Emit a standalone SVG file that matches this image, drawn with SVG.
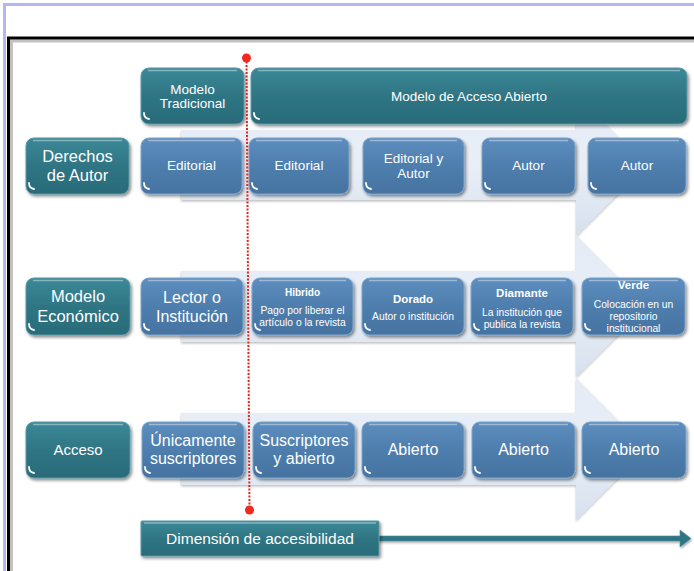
<svg xmlns="http://www.w3.org/2000/svg" xmlns:xlink="http://www.w3.org/1999/xlink" width="694" height="571" viewBox="0 0 694 571">
<defs>
<linearGradient id="gTeal" x1="0" y1="0" x2="0" y2="1">
<stop offset="0" stop-color="#3c8997"/><stop offset="0.5" stop-color="#2f7584"/><stop offset="1" stop-color="#296b79"/>
</linearGradient>
<linearGradient id="gBlue" x1="0" y1="0" x2="0" y2="1">
<stop offset="0" stop-color="#5d8ebf"/><stop offset="0.5" stop-color="#4e7ead"/><stop offset="1" stop-color="#4673a1"/>
</linearGradient>
<linearGradient id="gBand" x1="0" y1="0" x2="0" y2="1">
<stop offset="0" stop-color="#e4ebf5"/><stop offset="0.5" stop-color="#e9eff7"/><stop offset="1" stop-color="#d6e0ed"/>
</linearGradient>
<filter id="sh" x="-10%" y="-10%" width="125%" height="130%">
<feDropShadow dx="1.5" dy="2" stdDeviation="1.4" flood-color="#000" flood-opacity="0.45"/>
</filter>
<filter id="shb" x="-5%" y="-5%" width="110%" height="115%">
<feDropShadow dx="0" dy="1.5" stdDeviation="1" flood-color="#000" flood-opacity="0.25"/>
</filter>
<filter id="sha" filterUnits="userSpaceOnUse" x="370" y="525" width="324" height="30">
<feDropShadow dx="1" dy="1.5" stdDeviation="1" flood-color="#000" flood-opacity="0.35"/>
</filter>
<path id="cm" d="M0,0 q0,5 5,6" fill="none" stroke="#ffffff" stroke-width="1.8" stroke-linecap="round"/>
</defs>
<style>
.teal{fill:url(#gTeal);stroke:#5a9aa7;stroke-width:1;filter:url(#sh)}
.blue{fill:url(#gBlue);stroke:#7ea5cc;stroke-width:1;filter:url(#sh)}
.band{fill:url(#gBand);filter:url(#shb)}
.hl{stroke:#ffffff;stroke-opacity:0.4;stroke-width:1.5;fill:none}
text{font-family:"Liberation Sans",Arial,sans-serif;fill:#ffffff;text-anchor:middle}
.l{font-size:16.5px}
.m{font-size:13.5px}
.b{font-size:16px}
.h{font-size:11.5px;font-weight:bold}
.s{font-size:10.3px}
.frameL{stroke:#b4b6f4;stroke-width:3;fill:none}
.frameK{stroke:#000;stroke-width:3;fill:none}
.frameG{stroke:#9a9a9a;stroke-width:3;fill:none;stroke-opacity:0.6}
</style>
<rect x="0" y="0" width="694" height="571" fill="#ffffff"/>
<g id="frame">
<path class="frameL" d="M694,4.5 H4.5 V571"/>
<path class="frameG" d="M694,41 H11.5 V571"/>
<path class="frameK" d="M694,38 H8.5 V571"/>
</g>
<g id="bands">
<polygon class="band" points="181,130 576,130 576,94 647,165 576,236 576,200 181,200"/>
<polygon class="band" points="181,271 576,271 576,235 647,306 576,377 576,342 181,342"/>
<polygon class="band" points="181,413 576,413 576,378 647,449 576,520 576,485 181,485"/>
</g>
<g id="header-tradicional"><rect class="teal" x="141" y="68" width="103" height="56" rx="8"/><path class="hl" d="M148,70.5 H237"/><use xlink:href="#cm" x="144" y="113"/><text class="m" x="192.5" y="94">Modelo</text><text class="m" x="192.5" y="108">Tradicional</text></g>
<g id="header-abierto"><rect class="teal" x="251" y="68" width="436" height="56" rx="8"/><path class="hl" d="M258,70.5 H680"/><use xlink:href="#cm" x="254" y="113"/><text class="m" x="469" y="100.5">Modelo de Acceso Abierto</text></g>

<g id="label-derechos"><rect class="teal" x="26" y="138" width="103" height="56" rx="8"/><path class="hl" d="M33,140.5 H122"/><use xlink:href="#cm" x="29" y="183"/><text class="l" x="77.5" y="161.5">Derechos</text><text class="l" x="77.5" y="181">de Autor</text></g>
<g id="label-economico"><rect class="teal" x="26" y="278" width="104" height="57" rx="8"/><path class="hl" d="M33,280.5 H123"/><use xlink:href="#cm" x="29" y="324"/><text class="l" x="78" y="302">Modelo</text><text class="l" x="78" y="322">Económico</text></g>
<g id="label-acceso"><rect class="teal" x="26" y="422" width="104" height="56" rx="8"/><path class="hl" d="M33,424.5 H123"/><use xlink:href="#cm" x="29" y="467"/><text class="m" x="78" y="455" style="font-size:15px">Acceso</text></g>

<g id="r1c1"><rect class="blue" x="141" y="138" width="101" height="56" rx="8"/><path class="hl" d="M148,140.5 H235"/><use xlink:href="#cm" x="144" y="183"/><text class="m" x="191.5" y="170">Editorial</text></g>
<g id="r1c2"><rect class="blue" x="249" y="138" width="100" height="56" rx="8"/><path class="hl" d="M256,140.5 H342"/><use xlink:href="#cm" x="252" y="183"/><text class="m" x="299" y="170">Editorial</text></g>
<g id="r1c3"><rect class="blue" x="363" y="138" width="101" height="56" rx="8"/><path class="hl" d="M370,140.5 H457"/><use xlink:href="#cm" x="366" y="183"/><text class="m" x="413.5" y="163">Editorial y</text><text class="m" x="413.5" y="178">Autor</text></g>
<g id="r1c4"><rect class="blue" x="482" y="138" width="93" height="56" rx="8"/><path class="hl" d="M489,140.5 H568"/><use xlink:href="#cm" x="485" y="183"/><text class="m" x="528.5" y="170">Autor</text></g>
<g id="r1c5"><rect class="blue" x="588" y="138" width="98" height="56" rx="8"/><path class="hl" d="M595,140.5 H679"/><use xlink:href="#cm" x="591" y="183"/><text class="m" x="637" y="170">Autor</text></g>

<g id="r2c1"><rect class="blue" x="141" y="278" width="102" height="57" rx="8"/><path class="hl" d="M148,280.5 H236"/><use xlink:href="#cm" x="144" y="324"/><text class="b" x="192" y="303">Lector o</text><text class="b" x="192" y="322">Institución</text></g>
<g id="r2c2"><rect class="blue" x="252" y="278" width="101" height="57" rx="8"/><path class="hl" d="M259,280.5 H346"/><use xlink:href="#cm" x="255" y="324"/><text class="h" x="302.5" y="296" style="font-size:10px">Hibrido</text><text class="s" x="302.5" y="314">Pago por liberar el</text><text class="s" x="302.5" y="326">artículo o la revista</text></g>
<g id="r2c3"><rect class="blue" x="362" y="278" width="102" height="57" rx="8"/><path class="hl" d="M369,280.5 H457"/><use xlink:href="#cm" x="365" y="324"/><text class="h" x="413" y="303">Dorado</text><text class="s" x="413" y="320">Autor o institución</text></g>
<g id="r2c4"><rect class="blue" x="471" y="278" width="102" height="57" rx="8"/><path class="hl" d="M478,280.5 H566"/><use xlink:href="#cm" x="474" y="324"/><text class="h" x="522" y="297">Diamante</text><text class="s" x="522" y="316">La institución que</text><text class="s" x="522" y="328">publica la revista</text></g>
<g id="r2c5"><rect class="blue" x="582" y="278" width="103" height="57" rx="8"/><path class="hl" d="M589,280.5 H678"/><use xlink:href="#cm" x="585" y="324"/><text class="h" x="633.5" y="289">Verde</text><text class="s" x="633.5" y="308">Colocación en un</text><text class="s" x="633.5" y="320">repositorio</text><text class="s" x="633.5" y="332">institucional</text></g>

<g id="r3c1"><rect class="blue" x="142" y="422" width="102" height="56" rx="8"/><path class="hl" d="M149,424.5 H237"/><use xlink:href="#cm" x="145" y="467"/><text class="b" x="193" y="446">Únicamente</text><text class="b" x="193" y="464">suscriptores</text></g>
<g id="r3c2"><rect class="blue" x="253" y="422" width="102" height="56" rx="8"/><path class="hl" d="M260,424.5 H348"/><use xlink:href="#cm" x="256" y="467"/><text class="b" x="304" y="446">Suscriptores</text><text class="b" x="304" y="464">y abierto</text></g>
<g id="r3c3"><rect class="blue" x="362" y="422" width="102" height="56" rx="8"/><path class="hl" d="M369,424.5 H457"/><use xlink:href="#cm" x="365" y="467"/><text class="b" x="413" y="455">Abierto</text></g>
<g id="r3c4"><rect class="blue" x="472" y="422" width="103" height="56" rx="8"/><path class="hl" d="M479,424.5 H568"/><use xlink:href="#cm" x="475" y="467"/><text class="b" x="523.5" y="455">Abierto</text></g>
<g id="r3c5"><rect class="blue" x="582" y="422" width="104" height="56" rx="8"/><path class="hl" d="M589,424.5 H679"/><use xlink:href="#cm" x="585" y="467"/><text class="b" x="634" y="455">Abierto</text></g>

<g id="connectors">
<path d="M378,536 H680 V530 L691,538.5 L680,547 V541 H378 Z" fill="#2f7584" stroke="#4f8f9c" stroke-width="0.6" filter="url(#sha)"/>
<line x1="246.5" y1="58" x2="249.5" y2="510" stroke="#e8231b" stroke-width="2" stroke-dasharray="2,1.5"/>
<circle cx="246.5" cy="58" r="4.5" fill="#f02a1e"/>
<circle cx="249.5" cy="510" r="4.5" fill="#f02a1e"/>
</g>
<g id="dimension"><rect class="teal" x="141" y="521" width="238" height="35" rx="1"/><path class="hl" d="M144,523 H376"/><text class="l" x="260" y="544" style="font-size:15.5px">Dimensión de accesibilidad</text></g>
</svg>
